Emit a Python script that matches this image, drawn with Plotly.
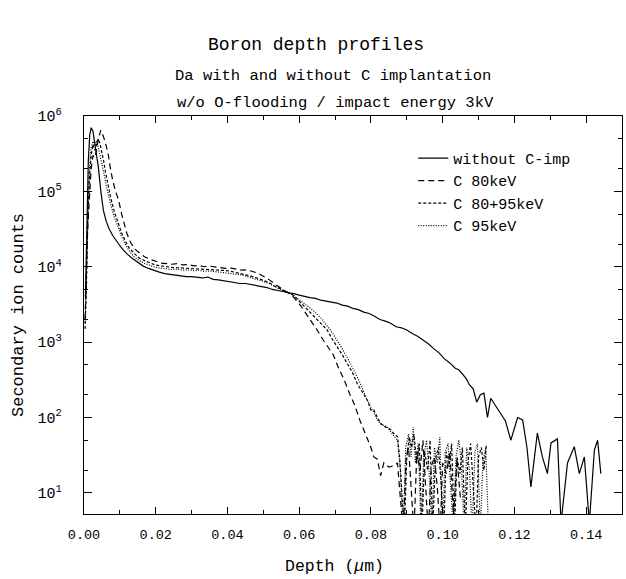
import plotly.graph_objects as go

FONT = "Liberation Mono"

# ---- data (depth in um, secondary ion counts) ----
x_none = [0.0004, 0.0008, 0.0012, 0.0016, 0.0020, 0.0025, 0.0030, 0.0035, 0.0040, 0.0047,
          0.0054, 0.0062, 0.0070, 0.0080, 0.0090, 0.0100, 0.0110, 0.0120, 0.0135, 0.0150,
          0.0165, 0.0180, 0.0195, 0.0210, 0.0225, 0.0240, 0.0255, 0.0270, 0.0285, 0.0300,
          0.0315, 0.0330, 0.0345, 0.0360, 0.0375, 0.0390, 0.0405, 0.0420, 0.0435, 0.0450,
          0.0465, 0.0480, 0.0495, 0.0510, 0.0525, 0.0540, 0.0555, 0.0570, 0.0585, 0.0600,
          0.0615, 0.0630, 0.0645, 0.0660, 0.0675, 0.0690, 0.0705, 0.0720, 0.0735, 0.0750,
          0.0765, 0.0780, 0.0795, 0.0810, 0.0825, 0.0840, 0.0855, 0.0870, 0.0885, 0.0900,
          0.0915, 0.0930, 0.0945, 0.0960, 0.0975, 0.0990, 0.1005, 0.1020, 0.1035, 0.1045,
          0.1055, 0.1065, 0.1075, 0.1085, 0.1095, 0.1105, 0.1115, 0.1125, 0.1134, 0.1145,
          0.1162, 0.1175, 0.1190, 0.1209, 0.1223, 0.1235, 0.1246, 0.1264, 0.1278, 0.1292,
          0.1302, 0.1320, 0.1330, 0.1348, 0.1367, 0.1381, 0.1395, 0.1409, 0.1423, 0.1432,
          0.1441]
y_none = [4000, 40000, 250000, 560000, 700000, 630000, 450000, 320000, 210000, 100000,
          56000, 40000, 32000, 26000, 22000, 19000, 16600, 14800, 12900, 11500,
          10200, 9500, 8900, 8500, 8100, 7900, 7700, 7600, 7400, 7400,
          7300, 7100, 7300, 6800, 6700, 6500, 6300, 6200, 6000, 6000,
          5800, 5600, 5500, 5300, 5000, 4900, 4700, 4500, 4400, 4200,
          4000, 3900, 3800, 3600, 3500, 3400, 3300, 3100, 3000, 2800,
          2700, 2500, 2400, 2200, 2000, 1900, 1780, 1600, 1550, 1450,
          1300, 1200, 1080, 950, 820, 720, 600, 530, 450, 430,
          380, 330, 270, 240, 160, 200, 210, 100, 180, 150,
          115, 90, 50, 100, 93, 40, 12, 62, 30, 18,
          46, 52, 4, 25, 41, 18, 30, 4, 37, 50,
          18]

x_c80 = [0.0003, 0.0006, 0.0010, 0.0015, 0.0020, 0.0025, 0.0030, 0.0035, 0.0040, 0.0047,
         0.0055, 0.0062, 0.0068, 0.0073, 0.0080, 0.0088, 0.0096, 0.0105, 0.0112, 0.0119,
         0.0130, 0.0140, 0.0156, 0.0170, 0.0185, 0.0200, 0.0215, 0.0230, 0.0245, 0.0260,
         0.0275, 0.0290, 0.0305, 0.0320, 0.0335, 0.0350, 0.0365, 0.0380, 0.0395, 0.0410,
         0.0425, 0.0440, 0.0455, 0.0470, 0.0485, 0.0500, 0.0515, 0.0530, 0.0545, 0.0560,
         0.0578, 0.0590, 0.0605, 0.0620, 0.0635, 0.0650, 0.0665, 0.0680, 0.0695, 0.0710,
         0.0725, 0.0740, 0.0755, 0.0770, 0.0785, 0.0800, 0.0808, 0.0818, 0.0827, 0.0836,
         0.0850, 0.0864, 0.0874, 0.0882, 0.0890, 0.0898, 0.0905, 0.0913, 0.0920, 0.0928,
         0.0937, 0.0945, 0.0953, 0.0960, 0.0968, 0.0977, 0.0985, 0.0993, 0.1000, 0.1010,
         0.1020, 0.1030, 0.1040, 0.1050]
y_c80 = [2000, 8000, 30000, 80000, 200000, 300000, 280000, 350000, 500000, 650000,
         520000, 400000, 300000, 210000, 140000, 100000, 78000, 50000, 36000, 28000,
         21000, 17500, 15000, 13500, 12500, 11800, 11200, 11000, 10800, 11000,
         10600, 10700, 10300, 10400, 10000, 10200, 9900, 9700, 9500, 9600,
         9200, 9000, 9100, 8600, 8200, 7500, 6800, 6000, 5300, 4800,
         4300, 3700, 3000, 2350, 1850, 1450, 1100, 870, 680, 450,
         320, 210, 145, 90, 60, 40, 30, 28, 17, 25,
         22, 23, 25, 8, 3, 30, 40, 10, 3, 35,
         20, 50, 8, 3, 22, 30, 12, 3, 25, 18,
         35, 5, 28, 8]

x_c8095 = [0.0003, 0.0007, 0.0010, 0.0015, 0.0020, 0.0025, 0.0030, 0.0035, 0.0040, 0.0045,
           0.0050, 0.0055, 0.0060, 0.0067, 0.0075, 0.0085, 0.0095, 0.0105, 0.0115, 0.0125,
           0.0140, 0.0155, 0.0170, 0.0185, 0.0200, 0.0215, 0.0230, 0.0245, 0.0260, 0.0275,
           0.0290, 0.0305, 0.0320, 0.0335, 0.0350, 0.0365, 0.0380, 0.0395, 0.0410, 0.0425,
           0.0440, 0.0455, 0.0470, 0.0485, 0.0500, 0.0515, 0.0530, 0.0545, 0.0560, 0.0580,
           0.0600, 0.0620, 0.0640, 0.0660, 0.0678, 0.0692, 0.0706, 0.0720, 0.0734, 0.0748,
           0.0762, 0.0776, 0.0790, 0.0800, 0.0808, 0.0818, 0.0827, 0.0840, 0.0855, 0.0865,
           0.0874, 0.0880, 0.0887, 0.0893, 0.0900, 0.0907, 0.0913, 0.0920, 0.0928, 0.0935,
           0.0942, 0.0950, 0.0958, 0.0965, 0.0972, 0.0980, 0.0988, 0.0995, 0.1003, 0.1010,
           0.1018, 0.1025, 0.1033, 0.1040, 0.1048, 0.1055, 0.1063, 0.1070, 0.1078, 0.1085,
           0.1093, 0.1100, 0.1108, 0.1115, 0.1122]
y_c8095 = [1500, 6000, 40000, 150000, 300000, 420000, 350000, 420000, 500000, 420000,
           330000, 250000, 180000, 120000, 80000, 53000, 38000, 28000, 22000, 18000,
           15000, 13000, 12000, 11200, 10500, 10300, 10000, 9800, 9700, 9600,
           9700, 9400, 9500, 9300, 9100, 9200, 9100, 8900, 8700, 8400,
           8100, 7700, 7400, 7000, 6600, 6200, 5600, 5200, 4800, 4300,
           3500, 2800, 2200, 1750, 1450, 1100, 870, 680, 520, 400,
           280, 220, 170, 125, 126, 100, 83, 75, 69, 60,
           56, 30, 10, 3, 30, 55, 40, 60, 25, 45,
           3, 35, 20, 50, 3, 28, 40, 15, 3, 35,
           22, 45, 3, 30, 18, 40, 3, 25, 45, 12,
           3, 30, 40, 20, 45]

x_c95 = [0.0003, 0.0007, 0.0010, 0.0015, 0.0020, 0.0025, 0.0030, 0.0035, 0.0040, 0.0045,
         0.0050, 0.0056, 0.0062, 0.0068, 0.0075, 0.0085, 0.0095, 0.0105, 0.0115, 0.0125,
         0.0140, 0.0155, 0.0170, 0.0185, 0.0200, 0.0215, 0.0230, 0.0245, 0.0260, 0.0275,
         0.0290, 0.0305, 0.0320, 0.0335, 0.0350, 0.0365, 0.0380, 0.0395, 0.0410, 0.0425,
         0.0440, 0.0455, 0.0470, 0.0485, 0.0500, 0.0515, 0.0530, 0.0545, 0.0560, 0.0580,
         0.0600, 0.0620, 0.0640, 0.0660, 0.0687, 0.0715, 0.0743, 0.0757, 0.0771, 0.0785,
         0.0799, 0.0818, 0.0830, 0.0845, 0.0860, 0.0874, 0.0882, 0.0890, 0.0897, 0.0905,
         0.0912, 0.0918, 0.0924, 0.0932, 0.0940, 0.0947, 0.0955, 0.0962, 0.0970, 0.0977,
         0.0985, 0.0992, 0.1000, 0.1007, 0.1015, 0.1022, 0.1030, 0.1037, 0.1045, 0.1052,
         0.1060, 0.1067, 0.1075, 0.1082, 0.1090, 0.1097, 0.1105, 0.1112, 0.1120, 0.1128]
y_c95 = [1800, 9000, 60000, 200000, 380000, 460000, 400000, 470000, 380000, 300000,
         240000, 170000, 120000, 90000, 65000, 45000, 33000, 25000, 20000, 16500,
         13500, 12000, 11000, 10300, 9800, 9600, 9400, 9200, 9300, 9000,
         9100, 8900, 9000, 8700, 8800, 8600, 8500, 8300, 8200, 8000,
         7800, 7400, 7100, 6800, 6400, 6000, 5500, 5100, 4700, 4300,
         3700, 3100, 2600, 2100, 1450, 900, 520, 380, 280, 190,
         138, 93, 80, 76, 60, 50, 20, 3, 40, 60,
         30, 75, 25, 45, 3, 30, 50, 20, 3, 40,
         25, 55, 3, 35, 45, 15, 3, 30, 50, 25,
         3, 40, 20, 3, 35, 45, 3, 25, 40, 3]

series = [
    ("without C-imp", x_none, y_none, "solid"),
    ("C 80keV", x_c80, y_c80, "6px,4px"),
    ("C 80+95keV", x_c8095, y_c8095, "3px,2px"),
    ("C 95keV", x_c95, y_c95, "1px,1.5px"),
]

x_ticks = [0.00, 0.02, 0.04, 0.06, 0.08, 0.10, 0.12, 0.14]
x_ticktext = ["0.00", "0.02", "0.04", "0.06", "0.08", "0.10", "0.12", "0.14"]
y_ticks = [1e1, 1e2, 1e3, 1e4, 1e5, 1e6]
y_ticktext = ["10<sup>1</sup>", "10<sup>2</sup>", "10<sup>3</sup>", "10<sup>4</sup>",
              "10<sup>5</sup>", "10<sup>6</sup>"]

fig = go.Figure()
for name, xs, ys, dash in series:
    fig.add_trace(go.Scatter(x=xs, y=ys, mode="lines", name=name,
                             line=dict(color="black", width=1.2, dash=dash)))

fig.update_layout(
    width=626, height=579,
    margin=dict(l=84, r=4, t=116, b=65),
    paper_bgcolor="white", plot_bgcolor="white",
    font=dict(family=FONT, color="black", size=13),
    showlegend=True,
    legend=dict(x=0.612, y=0.935, xanchor="left", yanchor="top",
                bgcolor="rgba(0,0,0,0)", font=dict(size=15, family=FONT),
                itemwidth=30, tracegroupgap=0),
    xaxis=dict(range=[0, 0.15], tickvals=x_ticks, ticktext=x_ticktext,
               ticks="inside", ticklen=7, tickcolor="black",
               showline=True, linecolor="black", linewidth=1.2, mirror="ticks",
               showgrid=False, zeroline=False, ticklabelstandoff=8,
               minor=dict(ticks="inside", ticklen=4, dtick=0.01, tickcolor="black", showgrid=False),
               tickfont=dict(size=13.5, family=FONT)),
    yaxis=dict(type="log", range=[0.72, 6.0], tickvals=y_ticks, ticktext=y_ticktext,
               ticks="inside", ticklen=8, tickcolor="black",
               showline=True, linecolor="black", linewidth=1.2, mirror="ticks",
               showgrid=False, zeroline=False, ticklabelstandoff=18,
               minor=dict(ticks="inside", ticklen=4, tickcolor="black", showgrid=False),
               tickfont=dict(size=15, family=FONT)),
)

texts = [
    ("Boron depth profiles", 0.431, 1.178, 18, 0),
    ("Da with and without C implantation", 0.463, 1.100, 15.5, 0),
    ("w/o O-flooding / impact energy 3kV", 0.468, 1.033, 15.5, 0),
    ("Depth (<i>μ</i>m)", 0.4665, -0.132, 16.5, 0),
    ("Secondary ion counts", -0.1227, 0.5, 17, -90),
]
for text, xp, yp, size, ang in texts:
    fig.add_annotation(text=text, x=xp, y=yp, xref="paper", yref="paper",
                       xanchor="center", yanchor="middle", showarrow=False,
                       textangle=ang,
                       font=dict(size=size, family=FONT, color="black"))

fig.write_html("out.html")
